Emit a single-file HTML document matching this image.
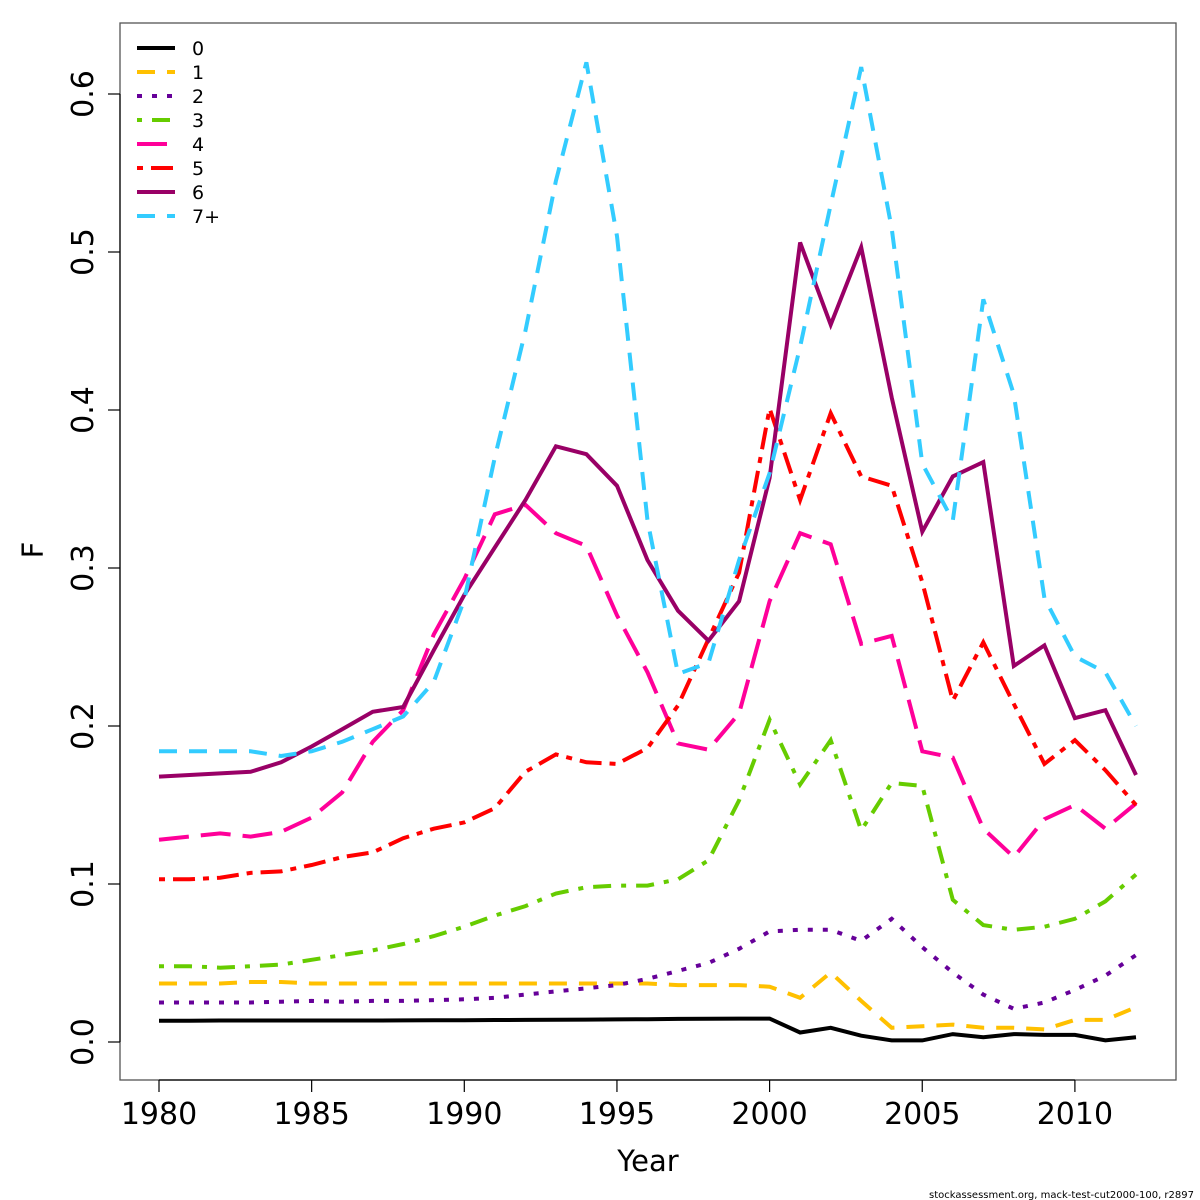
<!DOCTYPE html>
<html><head><meta charset="utf-8"><style>
body{margin:0;background:#fff;}
svg{display:block;font-family:"DejaVu Sans","Liberation Sans",sans-serif;}
</style></head><body>
<svg id="chart" width="1200" height="1200">
<rect x="120" y="23" width="1056" height="1057" fill="none" stroke="#555" stroke-width="1.3"/>
<g id="axes"></g><g id="lines"></g><g id="legend"></g>
<text x="648" y="1171" font-size="29" text-anchor="middle">Year</text>
<text x="0" y="0" font-size="29" text-anchor="middle" transform="translate(43,550) rotate(-90)">F</text>
<text x="1194" y="1198" font-size="10" text-anchor="end">stockassessment.org, mack-test-cut2000-100, r2897</text>
</svg>
<script>
const years=[];for(let y=1980;y<=2012;y++)years.push(y);
const xTicks=[1980,1985,1990,1995,2000,2005,2010];
const yTicks=[0,0.1,0.2,0.3,0.4,0.5,0.6];
const yTickLabels=["0.0","0.1","0.2","0.3","0.4","0.5","0.6"];
const seriesNames=["0","1","2","3","4","5","6","7+"];
const f0=[0.0135,0.0135,0.0136,0.0136,0.0136,0.0136,0.0136,0.0136,0.0137,0.0138,0.0138,0.0139,0.014,0.0141,0.0142,0.0143,0.0144,0.0146,0.0147,0.0148,0.0148,0.006,0.009,0.004,0.001,0.001,0.005,0.003,0.005,0.0045,0.0045,0.001,0.003];
const f1=[0.037,0.037,0.037,0.038,0.038,0.037,0.037,0.037,0.037,0.037,0.037,0.037,0.037,0.037,0.037,0.037,0.037,0.036,0.036,0.036,0.035,0.028,0.044,0.026,0.009,0.010,0.011,0.009,0.009,0.008,0.014,0.014,0.022];
const f2=[0.025,0.025,0.025,0.025,0.0255,0.026,0.0255,0.026,0.026,0.0265,0.027,0.028,0.030,0.032,0.034,0.036,0.040,0.045,0.050,0.059,0.070,0.071,0.071,0.064,0.078,0.060,0.044,0.030,0.021,0.025,0.033,0.042,0.055];
const f3=[0.048,0.048,0.047,0.048,0.049,0.052,0.055,0.058,0.062,0.067,0.073,0.080,0.086,0.094,0.098,0.099,0.099,0.103,0.115,0.153,0.204,0.163,0.191,0.134,0.164,0.162,0.090,0.074,0.071,0.073,0.078,0.089,0.106];
const f4=[0.128,0.130,0.132,0.130,0.133,0.142,0.158,0.190,0.210,0.258,0.293,0.334,0.340,0.322,0.314,0.270,0.234,0.189,0.185,0.208,0.279,0.322,0.315,0.252,0.257,0.184,0.180,0.135,0.117,0.141,0.150,0.135,0.151];
const f5=[0.103,0.103,0.104,0.107,0.108,0.112,0.117,0.120,0.129,0.135,0.139,0.148,0.171,0.182,0.177,0.176,0.186,0.213,0.255,0.297,0.401,0.343,0.398,0.358,0.352,0.291,0.216,0.253,0.214,0.176,0.191,0.172,0.150];
const f6=[0.168,0.169,0.170,0.171,0.177,0.187,0.198,0.209,0.212,0.248,0.283,0.313,0.343,0.377,0.372,0.352,0.305,0.273,0.254,0.279,0.357,0.506,0.454,0.503,0.408,0.323,0.358,0.367,0.238,0.251,0.205,0.210,0.169];
const f7=[0.184,0.184,0.184,0.184,0.181,0.184,0.190,0.198,0.206,0.228,0.280,0.370,0.450,0.545,0.620,0.510,0.330,0.233,0.240,0.305,0.360,0.440,0.530,0.617,0.515,0.366,0.330,0.470,0.410,0.281,0.244,0.234,0.200];
const allSeries=[f0,f1,f2,f3,f4,f5,f6,f7];
const colors=["#000000","#FFC000","#660099","#66CC00","#FF0099","#FF0000","#990066","#33CCFF"];
const dashes=["","18,12","5,10","5,10,18,10","30,12","6,8,22,8","","18,12"];
const NS="http://www.w3.org/2000/svg";
const xs=v=>159+(v-1980)*30.53;
const ys=v=>1042-v*1580;
function mk(t,a,p){const e=document.createElementNS(NS,t);for(const k in a)e.setAttribute(k,a[k]);p.appendChild(e);return e;}
const ax=document.getElementById('axes');
let e=mk('line',{x1:xs(1980),x2:xs(2010),y1:1080,y2:1080,stroke:'#000','stroke-width':1.2},ax);


xTicks.forEach(t=>{
 let l=mk('line',{x1:xs(t),x2:xs(t),y1:1080,y2:1092,stroke:'#000','stroke-width':1.2},ax);
 
 
 let tx=mk('text',{x:xs(t),y:1124,'font-size':30,'text-anchor':'middle'},ax);tx.textContent=t;
 
 
});
e=mk('line',{x1:120,x2:120,y1:ys(0),y2:ys(0.6),stroke:'#000','stroke-width':1.2},ax);


yTicks.forEach((t,i)=>{
 let l=mk('line',{x1:108,x2:120,y1:ys(t),y2:ys(t),stroke:'#000','stroke-width':1.2},ax);
 
 
 let tx=mk('text',{x:0,y:0,'font-size':30,'text-anchor':'middle',transform:`translate(93,${ys(t)}) rotate(-90)`},ax);tx.textContent=yTickLabels[i];
 
 
});
const lg=document.getElementById('lines');
allSeries.forEach((s,i)=>{
 const d=s.map((v,j)=>(j?'L':'M')+xs(years[j]).toFixed(1)+','+ys(v).toFixed(1)).join('');
 let p=mk('path',{d:d,fill:'none',stroke:colors[i],'stroke-width':4,'stroke-dasharray':dashes[i]},lg);
 
 
});
const leg=document.getElementById('legend');
seriesNames.forEach((n,i)=>{
 const y=48+i*24;
 let l=mk('line',{x1:137,x2:175,y1:y,y2:y,stroke:colors[i],'stroke-width':4,'stroke-dasharray':dashes[i]},leg);
 
 
 let t=mk('text',{x:192,y:y+7,'font-size':19},leg);t.textContent=n;
 
 
});
</script>
</body></html>
